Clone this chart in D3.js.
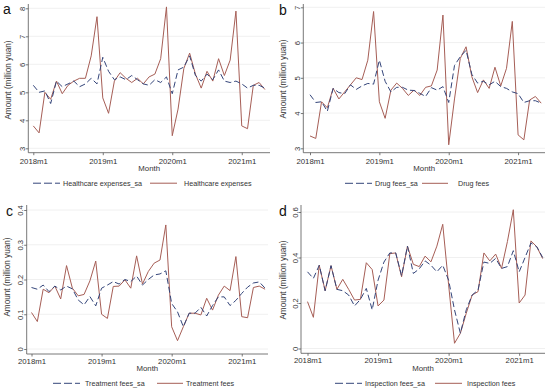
<!DOCTYPE html>
<html><head><meta charset="utf-8">
<script src="https://cdn.jsdelivr.net/npm/d3@7/dist/d3.min.js"></script>
<style>
html,body{margin:0;padding:0;background:#fff;}
svg{display:block;font-family:"Liberation Sans",Arial,sans-serif;}
</style></head>
<body>
<svg id="chart" width="550" height="391"></svg>
<script>
// ---- data (index 0 = 2018m1 ... 40 = 2021m5) ----
const tickIdx = [0, 12, 24, 36];
const tickLabels = ["2018m1", "2019m1", "2020m1", "2021m1"];

const healthSA = [5.25,5.0,5.05,4.6,5.4,5.2,5.3,5.4,5.2,5.3,5.5,5.3,6.25,5.75,5.45,5.55,5.45,5.6,5.45,5.3,5.25,5.45,5.35,5.55,4.95,5.8,5.9,6.3,5.6,5.4,5.65,5.45,5.8,5.4,5.35,5.4,5.3,5.15,5.25,5.25,5.15];
const healthAct = [3.8,3.55,5.0,4.75,5.4,4.95,5.25,5.4,5.5,5.5,6.3,7.7,4.8,4.25,5.4,5.7,5.5,5.35,5.5,5.3,5.55,5.65,6.2,8.05,3.45,4.4,5.85,6.4,5.65,5.15,5.75,5.4,6.2,5.6,6.15,7.9,3.8,3.7,5.25,5.35,5.1];

const drugSA = [4.52,4.3,4.32,4.05,4.7,4.58,4.55,4.8,4.67,4.77,4.84,4.82,5.5,4.9,4.6,4.73,4.73,4.65,4.64,4.56,4.47,4.72,4.65,4.75,4.3,5.35,5.6,5.78,5.1,4.85,4.9,4.8,4.9,4.75,4.7,4.6,4.55,4.3,4.35,4.35,4.28];
const drugAct = [3.35,3.28,4.32,4.15,4.7,4.4,4.6,4.8,5.0,4.95,5.5,6.88,4.32,3.85,4.65,4.85,4.7,4.5,4.65,4.5,4.73,4.77,5.22,6.78,3.1,4.4,5.55,5.88,5.03,4.58,4.94,4.7,5.3,4.77,5.27,6.6,3.38,3.24,4.37,4.47,4.28];

const treatSA = [0.177,0.172,0.184,0.165,0.181,0.17,0.181,0.173,0.141,0.127,0.151,0.124,0.175,0.184,0.194,0.187,0.2,0.194,0.21,0.184,0.2,0.213,0.216,0.225,0.131,0.107,0.064,0.103,0.103,0.12,0.095,0.125,0.15,0.15,0.125,0.14,0.16,0.178,0.19,0.193,0.175];
const treatAct = [0.105,0.079,0.172,0.162,0.181,0.144,0.24,0.175,0.153,0.157,0.196,0.253,0.10,0.088,0.18,0.181,0.199,0.175,0.268,0.187,0.223,0.247,0.256,0.357,0.064,0.024,0.064,0.103,0.103,0.098,0.146,0.112,0.155,0.181,0.168,0.266,0.093,0.09,0.177,0.181,0.172];

const inspSA = [0.337,0.308,0.366,0.254,0.364,0.26,0.254,0.235,0.187,0.216,0.264,0.17,0.3,0.38,0.42,0.42,0.32,0.45,0.33,0.35,0.385,0.366,0.337,0.366,0.3,0.17,0.067,0.17,0.235,0.257,0.38,0.374,0.396,0.352,0.36,0.43,0.337,0.40,0.464,0.447,0.4];
const inspAct = [0.206,0.137,0.366,0.254,0.364,0.26,0.304,0.26,0.213,0.216,0.377,0.347,0.187,0.213,0.417,0.42,0.315,0.45,0.37,0.36,0.406,0.381,0.45,0.546,0.28,0.023,0.067,0.155,0.235,0.25,0.42,0.385,0.415,0.352,0.47,0.61,0.2,0.235,0.473,0.447,0.395];

const letters = ["a", "b", "c", "d"];
const saNames = ["Healthcare expenses_sa", "Drug fees_sa", "Treatment fees_sa", "Inspection fees_sa"];
const actNames = ["Healthcare expenses", "Drug fees", "Treatment fees", "Inspection fees"];
const yTicksA = [3,4,5,6,7,8];
const yTicksB = [3,4,5,6,7];
const yTicksC = [0,0.1,0.2,0.3,0.4];
const yTicksD = [0,0.2,0.4,0.6];

// ---- layout ----
const panels = [
  {sa: healthSA, act: healthAct, yDomain:[3,8], yTicks: yTicksA,
   x0:33.3, step:5.79, axisX:28.3, right:270, yRange:[148.3,8.3], top:4, axisY:152.7,
   tickY:164.5, monthY:170.8, legY:183.2, titleX:10.5, titleCY:80, letterX:3, letterY:14,
   leg:[33,60,63,150,177,184]},
  {sa: drugSA, act: drugAct, yDomain:[3,7], yTicks: yTicksB,
   x0:310, step:5.78, axisX:303.3, right:545, yRange:[148.3,7.3], top:4, axisY:152.7,
   tickY:164.5, monthY:171, legY:183.3, titleX:286, titleCY:79, letterX:279, letterY:15,
   leg:[345,372,375,422,448,458]},
  {sa: treatSA, act: treatAct, yDomain:[0,0.4], yTicks: yTicksC,
   x0:31.5, step:5.84, axisX:26.7, right:268, yRange:[349,210], top:205, axisY:354,
   tickY:363.5, monthY:371, legY:383.3, titleX:9.5, titleCY:277, letterX:6, letterY:216,
   leg:[53,80,85,157,183,186]},
  {sa: inspSA, act: inspAct, yDomain:[0,0.6], yTicks: yTicksD,
   x0:307.5, step:5.88, axisX:301, right:545, yRange:[348.5,212], top:205, axisY:353.3,
   tickY:363, monthY:371, legY:383.3, titleX:285.5, titleCY:280, letterX:279, letterY:216,
   leg:[335,362,365,435,462,467]}
];

const saColor = "#34457a";
const actColor = "#a65e56";
const svg = d3.select("#chart");

panels.forEach((p, k) => {
  const g = svg.append("g");
  const n = p.sa.length;
  const x = d3.scaleLinear().domain([0, n - 1]).range([p.x0, p.x0 + (n - 1) * p.step]);
  const y = d3.scaleLinear().domain(p.yDomain).range(p.yRange);
  const fmt = v => (p.yDomain[1] < 1 ? (v === 0 ? "0" : d3.format(".1f")(v)) : String(v));

  // gridlines
  g.selectAll("line.grid").data(p.yTicks).enter().append("line")
    .attr("x1", p.axisX).attr("x2", p.right)
    .attr("y1", d => y(d)).attr("y2", d => y(d))
    .attr("stroke", "#ececec").attr("stroke-width", 0.8);

  // y axis
  const yAxis = d3.axisLeft(y).tickValues(p.yTicks).tickSize(2.5).tickFormat(fmt);
  const ya = g.append("g").attr("transform", `translate(${p.axisX},0)`).call(yAxis);
  ya.select(".domain").attr("d", `M-0,${p.top}V${p.axisY}`).attr("stroke", "#555").attr("stroke-width", 0.8);
  ya.selectAll(".tick line").attr("stroke", "#555").attr("stroke-width", 0.8);
  ya.selectAll(".tick text")
    .attr("x", 0).attr("y", 0)
    .attr("transform", "translate(-3.5,0) rotate(-90)")
    .attr("text-anchor", "middle").attr("dy", 0)
    .attr("font-size", 7.6).attr("fill", "#333")
    .style("font-family", "'Liberation Sans', Arial, sans-serif");

  // x axis
  const xAxis = d3.axisBottom(x).tickValues(tickIdx).tickSize(2.5).tickFormat((d, i) => tickLabels[i]);
  const xa = g.append("g").attr("transform", `translate(0,${p.axisY})`).call(xAxis);
  xa.select(".domain").attr("d", `M${p.axisX},0H${p.right}`).attr("stroke", "#555").attr("stroke-width", 0.8);
  xa.selectAll(".tick line").attr("stroke", "#555").attr("stroke-width", 0.8);
  xa.selectAll(".tick text").attr("y", p.tickY - p.axisY).attr("dy", 0)
    .attr("font-size", 7.8).attr("fill", "#333")
    .style("font-family", "'Liberation Sans', Arial, sans-serif");

  // lines
  const line = d3.line().x((d, i) => x(i)).y(d => y(d));
  g.append("path").datum(p.act).attr("d", line)
    .attr("fill", "none").attr("stroke", actColor).attr("stroke-width", 1);
  g.append("path").datum(p.sa).attr("d", line)
    .attr("fill", "none").attr("stroke", saColor).attr("stroke-width", 1)
    .attr("stroke-dasharray", "6,3");

  // titles
  g.append("text").attr("x", (p.axisX + p.right) / 2).attr("y", p.monthY)
    .attr("text-anchor", "middle").attr("font-size", 7.8).attr("fill", "#333").text("Month");
  g.append("text").attr("transform", `translate(${p.titleX},${p.titleCY}) rotate(-90)`)
    .attr("text-anchor", "middle").attr("font-size", 8.2).attr("fill", "#333").text("Amount (million yuan)");
  g.append("text").attr("x", p.letterX).attr("y", p.letterY)
    .attr("font-size", 14).attr("fill", "#111").text(letters[k]);

  // legend
  const L = p.leg;
  g.append("line").attr("x1", L[0]).attr("x2", L[1]).attr("y1", p.legY).attr("y2", p.legY)
    .attr("stroke", saColor).attr("stroke-width", 1).attr("stroke-dasharray", "8,3");
  g.append("text").attr("x", L[2]).attr("y", p.legY + 2.6).attr("font-size", 7.2).attr("fill", "#333").text(saNames[k]);
  g.append("line").attr("x1", L[3]).attr("x2", L[4]).attr("y1", p.legY).attr("y2", p.legY)
    .attr("stroke", actColor).attr("stroke-width", 1);
  g.append("text").attr("x", L[5]).attr("y", p.legY + 2.6).attr("font-size", 7.2).attr("fill", "#333").text(actNames[k]);
});
</script>
</body></html>
